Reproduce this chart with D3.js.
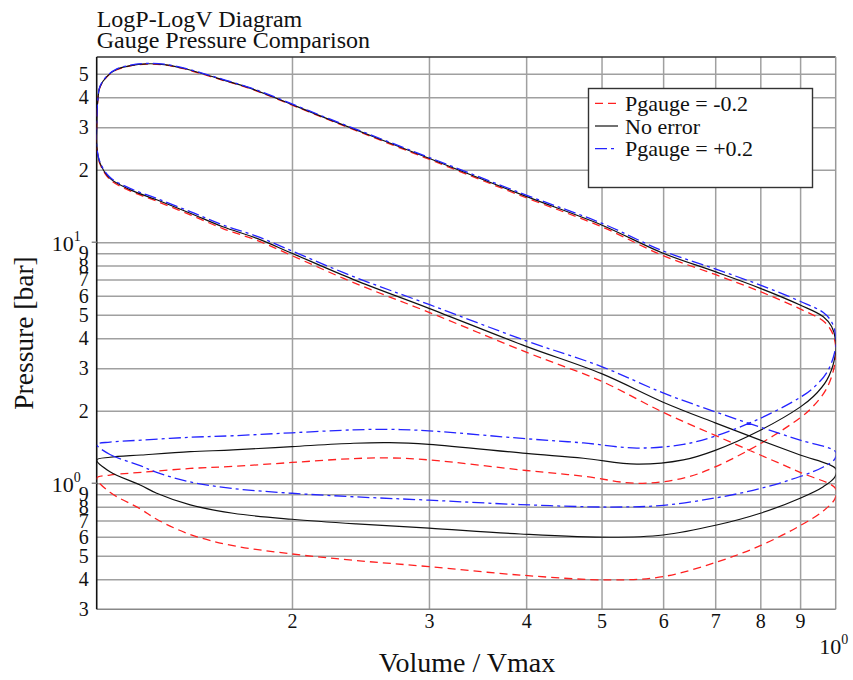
<!DOCTYPE html>
<html>
<head>
<meta charset="utf-8">
<script src="https://cdn.jsdelivr.net/npm/d3@7"></script>
<style>
  body { margin: 0; background: #fff; }
  svg text { font-family: "Liberation Serif", "Times New Roman", serif; fill: #111; }
</style>
</head>
<body>
<div id="chart"></div>
<script>
// crank positions around the cycle: intake, compression, combustion, expansion, exhaust
const volume = [
  0.1122, 0.1167, 0.1276, 0.134, 0.148, 0.168, 0.2, 0.242, 0.3, 0.393, 0.513, 0.6, 0.703, 0.8, 0.9, 0.964, 0.998,
  1.0, 0.9, 0.8, 0.7, 0.6, 0.5, 0.4, 0.3, 0.24, 0.2, 0.18, 0.163, 0.148, 0.134, 0.124, 0.1167, 0.1133, 0.1122,
  0.1122, 0.1125,
  0.1133, 0.1156, 0.1191, 0.124, 0.13, 0.137, 0.145, 0.154, 0.163, 0.177, 0.224, 0.3, 0.4, 0.5, 0.6, 0.7, 0.8, 0.9, 0.964, 0.988, 1.0,
  0.997, 0.974, 0.936, 0.9, 0.8, 0.7, 0.637, 0.555, 0.474, 0.4, 0.3, 0.267, 0.24, 0.2, 0.168, 0.148, 0.128, 0.1167
];
const pressureMinus = [
  1.05, 0.917, 0.784, 0.709, 0.613, 0.551, 0.509, 0.478, 0.451, 0.416, 0.397, 0.41, 0.471, 0.551, 0.667, 0.768, 0.865,
  0.95, 1.11, 1.31, 1.58, 1.97, 2.65, 3.5, 5.12, 6.8, 8.8, 10.2, 11.4, 13.0, 14.8, 16.3, 18.2, 21.1, 24.8,
  30.8, 37.8,
  44.0, 48.5, 52.0, 53.9, 54.8, 54.4, 52.5, 49.7, 47.0, 43.3, 32.0, 22.1, 15.3, 11.6, 8.8, 7.35, 6.24, 5.29, 4.71, 4.27, 3.7,
  3.1, 2.48, 2.09, 1.87, 1.46, 1.17, 1.05, 1.0, 1.07, 1.13, 1.25, 1.274, 1.266, 1.22, 1.175, 1.152, 1.11, 1.082
];
const pressureNone = [
  1.25, 1.117, 0.984, 0.909, 0.813, 0.751, 0.709, 0.678, 0.651, 0.616, 0.597, 0.61, 0.671, 0.751, 0.867, 0.968, 1.065,
  1.15, 1.31, 1.51, 1.78, 2.17, 2.85, 3.7, 5.32, 7.0, 9.0, 10.4, 11.6, 13.2, 15.0, 16.5, 18.4, 21.3, 25,
  31, 38,
  44.2, 48.7, 52.2, 54.1, 55.0, 54.6, 52.7, 49.9, 47.2, 43.5, 32.2, 22.3, 15.5, 11.8, 9.0, 7.55, 6.44, 5.49, 4.91, 4.47, 3.9,
  3.3, 2.68, 2.29, 2.07, 1.66, 1.37, 1.25, 1.2, 1.27, 1.33, 1.45, 1.474, 1.466, 1.42, 1.375, 1.352, 1.31, 1.282
];
const pressurePlus = [
  1.45, 1.317, 1.184, 1.109, 1.013, 0.951, 0.909, 0.878, 0.851, 0.816, 0.797, 0.81, 0.871, 0.951, 1.067, 1.168, 1.265,
  1.35, 1.51, 1.71, 1.98, 2.37, 3.05, 3.9, 5.52, 7.2, 9.2, 10.6, 11.8, 13.4, 15.2, 16.7, 18.6, 21.5, 25.2,
  31.2, 38.2,
  44.4, 48.9, 52.4, 54.3, 55.2, 54.8, 52.9, 50.1, 47.4, 43.7, 32.4, 22.5, 15.7, 12.0, 9.2, 7.75, 6.64, 5.69, 5.11, 4.67, 4.1,
  3.5, 2.88, 2.49, 2.27, 1.86, 1.57, 1.45, 1.4, 1.47, 1.53, 1.65, 1.674, 1.666, 1.62, 1.575, 1.552, 1.51, 1.482
];
const seriesNames = ["Pgauge = -0.2", "No error", "Pgauge = +0.2"];

const xTicks = [0.2, 0.3, 0.4, 0.5, 0.6, 0.7, 0.8, 0.9, 1];
const xTickLabels = ["2", "3", "4", "5", "6", "7", "8", "9", "10^0"];
const yTicks = [50, 40, 30, 20, 10, 9, 8, 7, 6, 5, 4, 3, 2, 1, 0.9, 0.8, 0.7, 0.6, 0.5, 0.4, 0.3];
const yTickLabels = ["5", "4", "3", "2", "10^1", "9", "8", "7", "6", "5", "4", "3", "2", "10^0", "9", "8", "7", "6", "5", "4", "3"];

const W = 853, H = 680;
const margin = { top: 57, left: 96.7, right: 853 - 835.7, bottom: 680 - 609.3 };
const width = W - margin.left - margin.right;
const height = H - margin.top - margin.bottom;

const x = d3.scaleLog().domain([0.1122, 1]).range([0, width]);
const y = d3.scaleLog().domain([0.3, 58.7]).range([height, 0]);

const svg = d3.select("#chart").append("svg")
  .attr("width", W).attr("height", H);

svg.append("text").attr("x", 96.7).attr("y", 26.7).style("font-size", "24px").text("LogP-LogV Diagram");
svg.append("text").attr("x", 96.7).attr("y", 47.7).style("font-size", "24px").text("Gauge Pressure Comparison");

const g = svg.append("g").attr("transform", "translate(" + margin.left + "," + margin.top + ")");

// grid
g.append("g").attr("class", "grid")
  .call(d3.axisLeft(y).tickValues(yTicks.filter(d => d > 0.3)).tickSize(-width).tickFormat(""))
  .call(s => s.select(".domain").remove());
g.append("g").attr("class", "grid")
  .call(d3.axisBottom(x).tickValues(xTicks.filter(d => d < 1)).tickSize(height).tickFormat(""))
  .call(s => s.select(".domain").remove());
g.selectAll(".grid line").attr("stroke", "#a0a0a0").attr("stroke-width", 1.5);

// frame
g.append("line").attr("x1", 0).attr("x2", width).attr("y1", 0).attr("y2", 0).attr("stroke", "#333").attr("stroke-width", 1.5);
g.append("line").attr("x1", width).attr("x2", width).attr("y1", 0).attr("y2", height).attr("stroke", "#999").attr("stroke-width", 1.5);
g.append("line").attr("x1", 0).attr("x2", width).attr("y1", height).attr("y2", height).attr("stroke", "#888").attr("stroke-width", 1.5);
g.append("line").attr("x1", 0).attr("x2", 0).attr("y1", 0).attr("y2", height).attr("stroke", "#111").attr("stroke-width", 1.6);
[10, 1].forEach(v => {
  g.append("line").attr("x1", -5).attr("x2", 0).attr("y1", y(v)).attr("y2", y(v)).attr("stroke", "#888").attr("stroke-width", 1.5);
});

// axis labels
const yAxis = g.append("g")
  .call(d3.axisLeft(y).tickValues(yTicks).tickSize(0).tickPadding(8).tickFormat((d, i) => yTickLabels[i]));
const xAxis = g.append("g").attr("transform", "translate(0," + height + ")")
  .call(d3.axisBottom(x).tickValues(xTicks).tickSize(0).tickPadding(5).tickFormat((d, i) => xTickLabels[i]));
[yAxis, xAxis].forEach(a => {
  a.select(".domain").remove();
  a.selectAll("text").style("font-size", "20px").attr("fill", "#111").attr("font-family", null);
});

function decadeLabel(sel) {
  sel.each(function () {
    const t = d3.select(this);
    const parts = t.text().split("^");
    if (parts.length < 2) return;
    t.text(null);
    t.append("tspan").style("font-size", "22px").text(parts[0]);
    t.append("tspan").style("font-size", "14px").attr("dy", "-0.75em").text(parts[1]);
  });
}
yAxis.selectAll("text").filter((d, i) => yTickLabels[i].includes("^"))
  .call(decadeLabel).attr("x", -16).attr("dy", "0.42em");
xAxis.selectAll("text").filter((d, i) => xTickLabels[i].includes("^"))
  .call(decadeLabel).attr("text-anchor", "start").attr("x", -17).attr("y", 31);

svg.append("text")
  .attr("transform", "translate(33,333) rotate(-90)")
  .attr("text-anchor", "middle").style("font-size", "27.5px").text("Pressure [bar]");
svg.append("text")
  .attr("x", 467).attr("y", 672)
  .attr("text-anchor", "middle").style("font-size", "28px").text("Volume / Vmax");

// curves
g.append("clipPath").attr("id", "plotClip")
  .append("rect").attr("width", width).attr("height", height);

const series = [
  { name: seriesNames[0], values: pressureMinus, color: "#ff2020", dash: "8,5", w: 1.3 },
  { name: seriesNames[1], values: pressureNone, color: "#111", dash: null, w: 1.2 },
  { name: seriesNames[2], values: pressurePlus, color: "#2424ff", dash: "12,4,3,4", w: 1.3 },
];

const line = d3.line()
  .x(d => x(d[0]))
  .y(d => y(d[1]))
  .curve(d3.curveCatmullRomClosed.alpha(0.5));

g.append("g").attr("clip-path", "url(#plotClip)")
  .selectAll("path")
  .data(series)
  .enter()
  .append("path")
  .attr("d", s => line(volume.map((v, i) => [v, s.values[i]])))
  .attr("fill", "none")
  .attr("stroke", s => s.color)
  .attr("stroke-width", s => s.w)
  .attr("stroke-dasharray", s => s.dash);

// legend
const legend = svg.append("g");
legend.append("rect")
  .attr("x", 588.5).attr("y", 88.5).attr("width", 224).attr("height", 99)
  .attr("fill", "#fff").attr("stroke", "#333").attr("stroke-width", 1.4);
series.forEach((s, i) => {
  const ly = 103.3 + i * 22.7;
  legend.append("line")
    .attr("x1", 595).attr("x2", 618).attr("y1", ly).attr("y2", ly)
    .attr("stroke", s.color).attr("stroke-width", s.w).attr("stroke-dasharray", s.dash);
  legend.append("text")
    .attr("x", 625).attr("y", 111 + i * 22.6)
    .style("font-size", "22px").text(s.name);
});
</script>
</body>
</html>
